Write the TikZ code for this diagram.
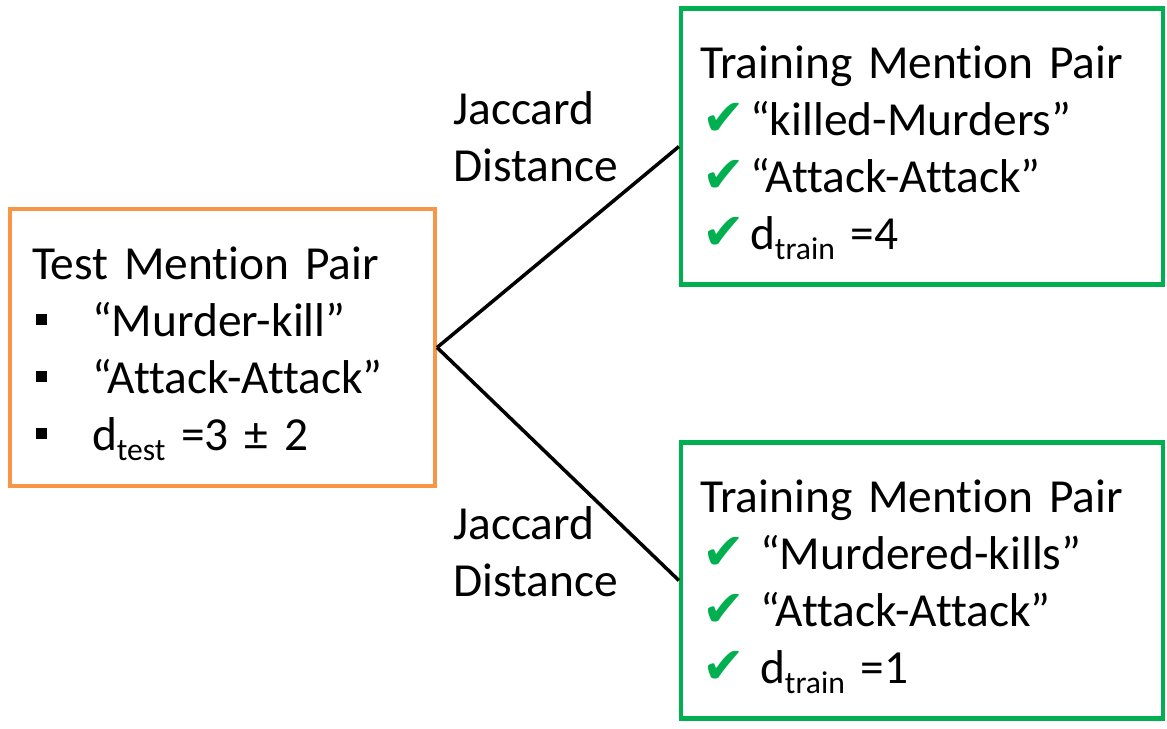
\documentclass[tikz,border=0pt]{standalone}
\usepackage{fontspec}
\setmainfont[Ligatures={NoCommon},WordSpace=0.8]{Carlito}
\newfontfamily\symfont{DejaVu Sans}
\definecolor{testorange}{RGB}{247,150,70}
\definecolor{traingreen}{RGB}{0,176,80}
\newcommand{\bul}{\hspace{0.08cm}\makebox[1.12cm][l]{\rule[0.24cm]{0.22cm}{0.22cm}}}
\newcommand{\chk}[1]{\makebox[#1][l]{\hspace{0.04cm}\textcolor{traingreen}{\fontsize{29}{29}\symfont ✔}}}
\newcommand{\dsub}[1]{d\raisebox{-0.2cm}{\fontsize{18}{18}\selectfont #1}}
\newcommand{\topstrut}{\rule{0pt}{26pt}}
\begin{document}
\begin{tikzpicture}[x=0.02cm,y=-0.02cm,
    every node/.style={font=\fontsize{27}{32.5}\selectfont},
    testbox/.style={draw=testorange,line width=2.4pt,minimum height=5.54cm,
        inner xsep=0.44cm,text width=7.62cm,align=left},
    trainbox/.style={draw=traingreen,line width=2.4pt,minimum height=5.52cm,
        inner xsep=0.38cm,text width=8.88cm,align=left},
    dist/.style={align=left,anchor=north west,inner sep=0pt}]
    \useasboundingbox (0,0) rectangle (1167,728);

    \node[testbox] (test) at (222.5,347.5) {\topstrut Test Mention Pair\\
        \bul“Murder-kill”\\
        \bul“Attack-Attack”\\
        \bul\dsub{test} =3 ± 2};

    \node[trainbox] (trainA) at (922,146.5) {\topstrut Training Mention Pair\\
        \chk{1.0cm}“killed-Murders”\\
        \chk{1.0cm}“Attack-Attack”\\
        \chk{1.0cm}\dsub{train} =4};

    \node[trainbox] (trainB) at (922,580.5) {\topstrut Training Mention Pair\\
        \chk{1.2cm}“Murdered-kills”\\
        \chk{1.2cm}“Attack-Attack”\\
        \chk{1.2cm}\dsub{train} =1};

    \draw[line width=2pt] (test.east) -- (trainA.west);
    \draw[line width=2pt] (test.east) -- (trainB.west);

    \node[dist] (distA) at (453,91) {Jaccard\\Distance};
    \node[dist] (distB) at (453,506) {Jaccard\\Distance};
\end{tikzpicture}
\end{document}
